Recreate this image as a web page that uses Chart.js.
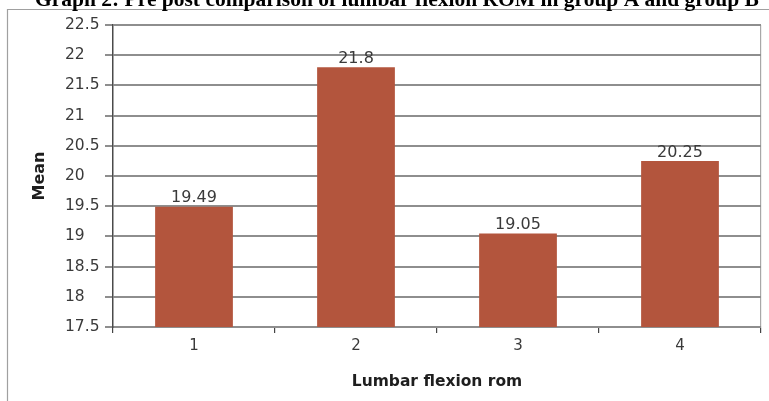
<!DOCTYPE html>
<html>
<head>
<meta charset="utf-8">
<script src="https://cdn.jsdelivr.net/npm/chart.js@4/dist/chart.umd.min.js"></script>
<style>
  html, body { margin: 0; padding: 0; background: #fff; }
  #wrap { position: relative; width: 769px; height: 401px; }
</style>
</head>
<body>
<div id="wrap"><canvas id="c" width="769" height="401"></canvas></div>
<script>
// Mean lumbar flexion ROM per measurement
const categories = ['1', '2', '3', '4'];
const meanValues = [19.49, 21.8, 19.05, 20.25];
const yTicks = [17.5, 18, 18.5, 19, 19.5, 20, 20.5, 21, 21.5, 22, 22.5];

const chartTitle = 'Graph 2: Pre post comparison of lumbar flexion ROM in group A and group B';
const xTitle = 'Lumbar flexion rom';
const yTitle = 'Mean';

const BAR_COLOR = '#b3553d';
const GRID_COLOR = '#8e8e8e';
const TEXT_COLOR = '#3a3a3a';
const FONT = '"DejaVu Sans", "Open Sans", sans-serif';

// Page frame and the heading above the plot
const framePlugin = {
  id: 'frame',
  beforeDraw(chart) {
    const ctx = chart.ctx;
    ctx.save();
    ctx.strokeStyle = '#a0a0a0';
    ctx.lineWidth = 1.2;
    ctx.beginPath();
    ctx.moveTo(7.5, chart.height);
    ctx.lineTo(7.5, 9.5);
    ctx.lineTo(chart.width, 9.5);
    ctx.stroke();
    ctx.fillStyle = '#000';
    ctx.font = 'bold 21.5px "Liberation Serif", "Times New Roman", serif';
    ctx.textAlign = 'left';
    ctx.textBaseline = 'alphabetic';
    ctx.fillText(chartTitle, 35, 5.5);
    ctx.restore();
  }
};

// Value printed above each bar
const valueLabelPlugin = {
  id: 'valueLabels',
  afterDatasetsDraw(chart) {
    const ctx = chart.ctx;
    const meta = chart.getDatasetMeta(0);
    ctx.save();
    ctx.fillStyle = TEXT_COLOR;
    ctx.font = '16px ' + FONT;
    ctx.textAlign = 'center';
    ctx.textBaseline = 'bottom';
    meta.data.forEach((bar, i) => {
      ctx.fillText(String(meanValues[i]), bar.x, bar.y - 0.5);
    });
    ctx.restore();
  }
};

new Chart(document.getElementById('c'), {
  type: 'bar',
  data: {
    labels: categories,
    datasets: [{
      data: meanValues,
      backgroundColor: BAR_COLOR,
      borderWidth: 0,
      barPercentage: 0.48,
      categoryPercentage: 1.0
    }]
  },
  options: {
    responsive: false,
    animation: false,
    devicePixelRatio: 1,
    layout: { padding: { left: 65, top: 25, right: 8, bottom: 0 } },
    plugins: {
      legend: { display: false },
      title: { display: false },
      tooltip: { enabled: false }
    },
    scales: {
      x: {
        type: 'category',
        offset: true,
        afterFit(s) { s.height = 74; },
        grid: {
          offset: true,
          drawOnChartArea: true,
          drawTicks: true,
          tickLength: 6,
          lineWidth: 1.2,
          color: (c) => (c.type === 'tick' ? 'rgba(0,0,0,0)' : '#a8a8a8'),
          tickColor: '#444'
        },
        border: { display: true, color: GRID_COLOR, width: 2 },
        ticks: {
          color: TEXT_COLOR,
          font: { family: FONT, size: 15 },
          padding: 4
        },
        title: {
          display: true,
          text: xTitle,
          color: '#1e1e1e',
          font: { family: FONT, size: 15.5, weight: 'bold' },
          padding: { top: 0, bottom: 10 }
        }
      },
      y: {
        min: 17.5,
        max: 22.5,
        afterFit(s) { s.width = 48; },
        afterBuildTicks(s) { s.ticks = yTicks.map(v => ({ value: v })); },
        grid: {
          color: GRID_COLOR,
          lineWidth: 2,
          tickLength: 8,
          tickColor: GRID_COLOR
        },
        border: { display: true, color: '#4a4a4a', width: 1.5 },
        ticks: {
          color: TEXT_COLOR,
          crossAlign: 'far',
          font: { family: FONT, size: 15.5 },
          callback: (v) => String(v)
        },
        title: {
          display: true,
          text: yTitle,
          color: '#1e1e1e',
          font: { family: FONT, size: 16, weight: 'bold' },
          padding: { top: -35, bottom: 0 }
        }
      }
    }
  },
  plugins: [framePlugin, valueLabelPlugin]
});
</script>
</body>
</html>
